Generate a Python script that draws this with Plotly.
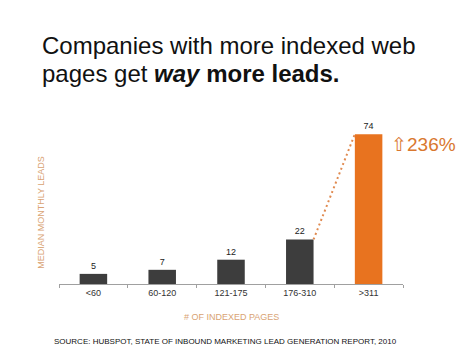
import plotly.graph_objects as go

categories = ["<60", "60-120", "121-175", "176-310", ">311"]
leads = [5, 7, 12, 22, 74]
bar_colors = ["#3d3d3d", "#3d3d3d", "#3d3d3d", "#3d3d3d", "#e8731f"]
increase_label = "⇧236%"

idx = list(range(len(categories)))
BAR_W = 0.4

fig = go.Figure()
fig.add_trace(go.Bar(
    x=idx, y=leads, width=BAR_W,
    marker=dict(color=bar_colors, line=dict(width=0)),
    text=[str(v) for v in leads], textposition="outside",
    textfont=dict(size=9, color="#222222", family="Liberation Sans"),
    cliponaxis=False, showlegend=False,
))
# dotted connector from top-right of 4th bar to top-left of 5th bar
fig.add_trace(go.Scatter(
    x=[idx[3] + BAR_W / 2, idx[4] - BAR_W / 2], y=[leads[3], leads[4]],
    mode="lines", line=dict(color="#e08a50", width=2, dash="2px,3px"),
    showlegend=False, hoverinfo="skip",
))

fig.update_layout(
    width=474, height=355,
    margin=dict(l=51, r=79, t=114, b=79),
    paper_bgcolor="white", plot_bgcolor="white",
    font=dict(family="Liberation Sans"),
    xaxis=dict(
        range=[-0.5, 4.5], tickvals=idx, ticktext=categories,
        ticks="", showgrid=False, zeroline=False,
        showline=True, linecolor="#a0a0a0", linewidth=1,
        tickfont=dict(size=9, color="#333333"),
        minor=dict(ticks="outside", tick0=-0.5, dtick=1, ticklen=3,
                   tickcolor="#a0a0a0", showgrid=False),
    ),
    yaxis=dict(range=[0, 80], visible=False),
    annotations=[
        dict(text="Companies with more indexed web",
             xref="paper", yref="paper", x=-0.055, y=1.0, yshift=77,
             xanchor="left", yanchor="middle", align="left", showarrow=False,
             font=dict(size=24, color="#111111", family="Liberation Sans")),
        dict(text="pages get <b><i>way</i> more leads.</b>",
             xref="paper", yref="paper", x=-0.055, y=1.0, yshift=49,
             xanchor="left", yanchor="middle", align="left", showarrow=False,
             font=dict(size=24, color="#111111", family="Liberation Sans")),
        dict(text="MEDIAN MONTHLY LEADS", xref="paper", yref="paper",
             x=-0.052, y=0.44, textangle=-90, showarrow=False,
             xanchor="center", yanchor="middle",
             font=dict(size=9, color="#d9a373")),
        dict(text="# OF INDEXED PAGES", xref="paper", yref="paper",
             x=0.5, y=0, yshift=-33, showarrow=False,
             xanchor="center", yanchor="middle",
             font=dict(size=9, color="#d9a373")),
        dict(text="SOURCE: HUBSPOT, STATE OF INBOUND MARKETING LEAD GENERATION REPORT, 2010",
             xref="paper", yref="paper", x=-0.02, y=0, yshift=-57,
             xanchor="left", yanchor="middle", showarrow=False,
             font=dict(size=8, color="#111111")),
        dict(text=increase_label, xref="paper", yref="paper",
             x=0.958, y=0.864, xanchor="left", yanchor="middle", showarrow=False,
             font=dict(size=19, color="#d9782f")),
    ],
)

fig.write_html("out.html")
